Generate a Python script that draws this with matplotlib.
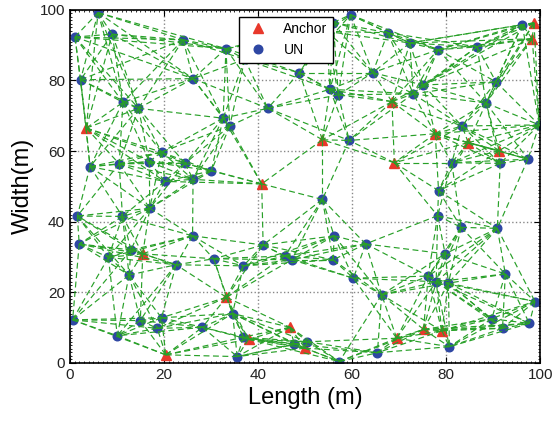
import matplotlib.pyplot as plt
import numpy as np
from matplotlib.ticker import MultipleLocator

plt.rcParams['font.family'] = ['Liberation Sans', 'DejaVu Sans']

# anchor node positions (m)
anchor_x = [3.5, 54.6, 98.7, 98.3, 68.5, 77.7, 84.7, 91.3, 69.0, 53.7,
            40.8, 15.5, 33.3, 20.4, 46.8, 38.0, 50.0, 69.5, 75.2, 79.1]
anchor_y = [66.5, 93.9, 96.3, 91.8, 74.0, 64.9, 62.4, 60.1, 56.7, 63.2,
            50.7, 30.9, 18.6, 2.3, 10.1, 6.7, 4.2, 7.0, 9.5, 9.1]

# unknown nodes (UN)
un_x = [1.1, 6.0, 9.0, 24.1, 33.2, 37.2, 48.8, 56.0, 59.7, 67.6, 72.3, 78.3, 86.6, 96.2,
        2.3, 26.2, 11.3, 14.6, 32.6, 34.0, 42.1, 55.3, 57.1, 64.4, 73.0, 75.1, 90.6, 88.5, 99.8, 83.4,
        4.3, 10.5, 16.9, 19.5, 24.5, 30.1, 20.2, 26.2, 59.4, 53.7, 91.5, 97.4, 81.2, 78.4,
        17.0, 1.6, 11.2, 26.1, 2.0, 78.2, 83.2, 90.9, 56.2,
        41.1, 62.9, 8.2, 13.0, 12.6, 22.6, 30.6, 36.9, 45.7, 47.2, 56.0, 60.3, 66.3, 79.8, 92.6,
        76.2, 77.9, 80.5, 98.9,
        0.6, 15.0, 19.5, 18.6, 28.2, 10.1, 34.6, 36.9, 47.7, 50.5, 35.6, 57.3, 65.4, 89.7, 92.0, 97.7, 80.7]
un_y = [92.3, 99.2, 93.1, 91.5, 89.0, 86.0, 82.2, 96.4, 98.6, 93.5, 90.6, 88.7, 89.5, 95.8,
        80.2, 80.5, 73.8, 72.1, 69.3, 67.1, 72.1, 77.5, 75.9, 82.2, 76.2, 78.7, 79.6, 73.6, 67.4, 67.1,
        55.6, 56.4, 57.0, 59.7, 56.5, 54.4, 51.4, 52.0, 63.0, 46.3, 56.5, 57.7, 56.7, 48.8,
        43.8, 41.6, 41.5, 36.0, 33.7, 41.7, 38.4, 38.1, 36.0,
        33.4, 33.7, 29.9, 32.0, 24.9, 27.8, 29.5, 27.5, 30.3, 29.2, 29.2, 24.0, 19.3, 30.9, 25.2,
        24.6, 23.0, 22.6, 17.4,
        12.2, 12.0, 12.8, 9.8, 10.1, 7.7, 14.0, 7.3, 5.4, 6.0, 1.8, 0.4, 2.9, 12.5, 9.8, 11.2, 4.6]

k_neighbors = 9

fig = plt.figure(figsize=(5.54, 4.26), dpi=100)
ax = fig.add_axes([0.126, 0.148, 0.849, 0.829])

# links between each node and its nearest neighbours
px = np.array(anchor_x + un_x)
py = np.array(anchor_y + un_y)
d = np.hypot(px[:, None] - px[None, :], py[:, None] - py[None, :])
np.fill_diagonal(d, np.inf)
edges = set()
for i in range(len(px)):
    for j in np.argsort(d[i])[:k_neighbors]:
        edges.add((min(i, j), max(i, j)))

ax.plot(anchor_x, anchor_y, '^', color='#e8382b', ms=7, mec='#e8382b', label='Anchor', zorder=2)
ax.plot(un_x, un_y, 'o', color='#2e47a3', ms=6.2, mec='#2e47a3', label='UN', zorder=2)

for i, j in sorted(edges):
    ax.plot([px[i], px[j]], [py[i], py[j]], '--', color='#28a028', lw=0.85,
            dashes=(5, 3), zorder=3)

ax.set_xlim(0, 100)
ax.set_ylim(0, 100)
ax.xaxis.set_major_locator(MultipleLocator(20))
ax.yaxis.set_major_locator(MultipleLocator(20))
ax.xaxis.set_minor_locator(MultipleLocator(1))
ax.yaxis.set_minor_locator(MultipleLocator(1))
ax.tick_params(which='both', direction='in', top=True, right=True, labelsize=11, labelcolor='#222222')
ax.tick_params(which='major', length=4)
ax.tick_params(which='minor', length=1.5)
ax.grid(True, which='major', ls=':', color='#888888', lw=1)
ax.set_axisbelow(True)
for s in ax.spines.values():
    s.set_linewidth(1.2)

ax.set_xlabel('Length (m)', fontsize=17)
ax.set_ylabel('Width(m)', fontsize=17)

leg = ax.legend(loc='upper left', bbox_to_anchor=(0.345, 1.0), fontsize=10,
                fancybox=False, edgecolor='black', framealpha=1, handletextpad=0.8,
                borderpad=0.4, labelspacing=0.5)
leg.get_frame().set_linewidth(1)
leg.set_zorder(5)

fig.savefig('out.png', dpi=100)
